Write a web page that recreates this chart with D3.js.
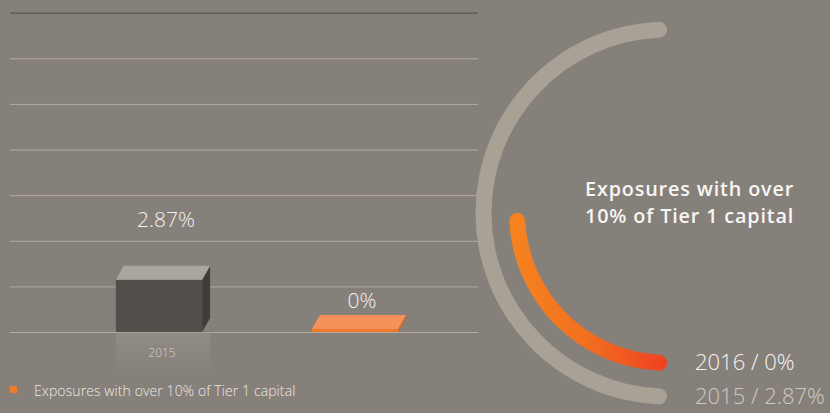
<!DOCTYPE html>
<html><head><meta charset="utf-8">
<script src="https://cdn.jsdelivr.net/npm/d3@7"></script>
<style>
html,body{margin:0;padding:0;background:#86807b;}
svg{display:block;}
</style></head><body>
<svg id="c" width="830" height="413"></svg>
<script>
// ---- data ----
const categories = ["2015", "2016"];
const values = [2.87, 0];
const valueLabels = ["2.87%", "0%"];
const xTickLabels = ["2015", ""];
const yTicks = [0, 2.5, 5, 7.5, 10, 12.5, 15, 17.5];
const legendLabel = "Exposures with over 10% of Tier 1 capital";
const ringTitle = ["Exposures with over", "10% of Tier 1 capital"];
const ringYears = ["2016", "2015"];
const ringValues = [0, 2.87];
const ringLabels = ["2016 / 0%", "2015 / 2.87%"];

// ---- layout ----
const W = 830, H = 413;
const svg = d3.select("#c");
const font = "'Open Sans', 'Noto Sans', sans-serif";

svg.append("rect").attr("width", W).attr("height", H).attr("fill", "#86807b");

const defs = svg.append("defs");
const refl = defs.append("linearGradient").attr("id", "refl").attr("x1", 0).attr("y1", 0).attr("x2", 0).attr("y2", 1);
refl.append("stop").attr("offset", "0%").attr("stop-color", "#9d9791").attr("stop-opacity", 0.5);
refl.append("stop").attr("offset", "100%").attr("stop-color", "#9d9791").attr("stop-opacity", 0);

const x = d3.scaleBand().domain(categories).range([61, 453]).paddingInner(0.56).paddingOuter(0.28);
const y = d3.scaleLinear().domain([0, 17.5]).range([332, 12.7]);

// gridlines via axis
const gridG = svg.append("g").attr("transform", "translate(10,0)")
  .call(d3.axisLeft(y).tickValues(yTicks).tickSize(-468).tickFormat(""));
gridG.select(".domain").remove();
gridG.selectAll(".tick line")
  .attr("stroke", (d) => d === 17.5 ? "#57524c" : "#b3ab9e")
  .attr("stroke-width", (d) => d === 17.5 ? 1.3 : 1);

const dx = 8, dy = -14;
const minH = 3;
const faces = [
  {front: "#524e49", top: "#a9a59f", side: "#403d39"},
  {front: "#f0782a", top: "#f5915a", side: "#d8621f"}
];

const bars = svg.append("g").selectAll("g").data(categories).join("g");

// reflection
bars.filter((d, i) => values[i] > 0).append("rect")
  .attr("x", d => x(d)).attr("y", y(0)).attr("width", x.bandwidth() + dx).attr("height", 40)
  .attr("fill", "url(#refl)");

bars.each(function(d, i) {
  const g = d3.select(this);
  const x0 = x(d), x1 = x(d) + x.bandwidth();
  const yb = y(0);
  let yt = y(values[i]);
  if (yb - yt < minH) yt = yb - minH;
  const c = faces[i];
  g.append("path").attr("d", `M${x1},${yt}L${x1+dx},${yt+dy}L${x1+dx},${yb+dy}L${x1},${yb}Z`).attr("fill", c.side);
  g.append("rect").attr("x", x0).attr("y", yt).attr("width", x1 - x0).attr("height", yb - yt).attr("fill", c.front);
  g.append("path").attr("d", `M${x0},${yt}L${x0+dx},${yt+dy}L${x1+dx},${yt+dy}L${x1},${yt}Z`).attr("fill", c.top);
});

const labelLift = [53, 24];
bars.append("text")
  .attr("x", (d) => x(d) + x.bandwidth() / 2 + dx / 2 + 3)
  .attr("y", (d, i) => y(values[i]) - labelLift[i])
  .attr("text-anchor", "middle")
  .attr("font-family", font).attr("font-weight", 300).attr("font-size", 21)
  .attr("fill", "#f6f3ef")
  .text((d, i) => valueLabels[i]);

// x tick labels
svg.append("g").selectAll("text").data(categories).join("text")
  .attr("x", d => x(d) + x.bandwidth() / 2 + 3)
  .attr("y", 357)
  .attr("text-anchor", "middle")
  .attr("font-family", font).attr("font-weight", 300).attr("font-size", 12)
  .attr("fill", "#d2ccc5")
  .text((d, i) => xTickLabels[i]);

// legend
svg.append("rect").attr("x", 10).attr("y", 386).attr("width", 7).attr("height", 7).attr("fill", "#f07a2a");
svg.append("text").attr("x", 34).attr("y", 396)
  .attr("font-family", font).attr("font-weight", 300).attr("font-size", 14)
  .attr("letter-spacing", 0.1)
  .attr("fill", "#eeeae6").text(legendLabel);

// ---- ring chart ----
const cx = 667, cy = 213;
const ringG = svg.append("g").attr("transform", `translate(${cx},${cy})`);
const ang = d3.scaleLinear().domain([0, 2.87]).range([Math.PI / 2, Math.PI]);
const radii = [150, 183.5];
const sw = 16;

const og = defs.append("linearGradient").attr("id", "og").attr("gradientUnits", "userSpaceOnUse")
  .attr("x1", -150).attr("y1", 0).attr("x2", 0).attr("y2", 0);
og.append("stop").attr("offset", "0%").attr("stop-color", "#f5821f");
og.append("stop").attr("offset", "45%").attr("stop-color", "#f2701f");
og.append("stop").attr("offset", "100%").attr("stop-color", "#ee4123");

const arc = d3.arc().cornerRadius(sw / 2);
ringG.selectAll("path").data(ringValues).join("path")
  .attr("d", (v, i) => arc({innerRadius: radii[i] - sw / 2, outerRadius: radii[i] + sw / 2,
      startAngle: Math.PI, endAngle: Math.PI + ang(v)}))
  .attr("fill", (v, i) => i === 0 ? "url(#og)" : "#a8a195");

// ring title (one text per line)
svg.append("g").selectAll("text").data(ringTitle).join("text")
  .attr("font-family", font).attr("font-weight", 600).attr("font-size", 19.8)
  .attr("letter-spacing", 0.85)
  .attr("fill", "#f8f6f3")
  .attr("x", 585).attr("y", (d, i) => 196 + i * 27).text(d => d);

// ring labels
svg.append("g").selectAll("text").data(ringLabels).join("text")
  .attr("x", 695)
  .attr("y", (d, i) => cy + radii[i] + 7)
  .attr("font-family", font).attr("font-weight", 300).attr("font-size", 22)
  .attr("fill", (d, i) => i === 0 ? "#f6f3ef" : "#d0cac3")
  .text(d => d);
</script>
</body></html>
